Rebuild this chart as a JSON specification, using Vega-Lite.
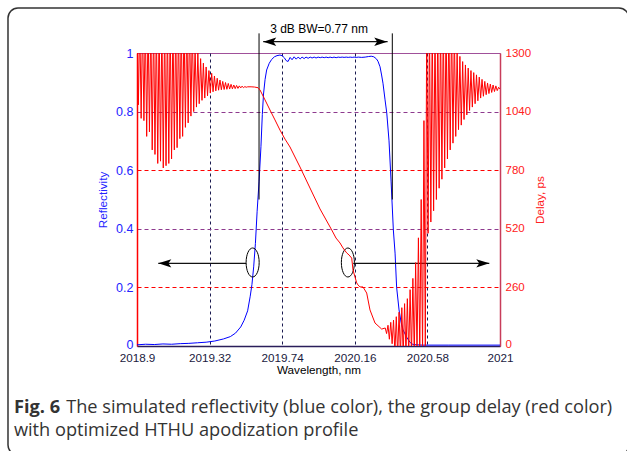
{
  "$schema": "https://vega.github.io/schema/vega-lite/v6.json",
  "width": 363,
  "height": 293,
  "autosize": {"type": "none"},
  "padding": {"left": 137, "top": 53, "right": 127, "bottom": 105},
  "config": {
    "view": {"stroke": "#a0509a", "strokeWidth": 1},
    "axis": {"labelFont": "Liberation Sans", "titleFont": "Liberation Sans", "ticks": false, "titleFontWeight": "normal", "labelFlush": false, "labelOverlap": false}
  },
  "datasets": {
    "blue": [
      {"w": 2018.9, "r": 0.004}, {"w": 2018.95, "r": 0.006}, {"w": 2019.0, "r": 0.005}, {"w": 2019.05, "r": 0.007},
      {"w": 2019.1, "r": 0.006}, {"w": 2019.15, "r": 0.008}, {"w": 2019.2, "r": 0.009}, {"w": 2019.25, "r": 0.011},
      {"w": 2019.3, "r": 0.013}, {"w": 2019.35, "r": 0.017}, {"w": 2019.4, "r": 0.024}, {"w": 2019.44, "r": 0.032},
      {"w": 2019.47, "r": 0.044}, {"w": 2019.5, "r": 0.065}, {"w": 2019.52, "r": 0.088}, {"w": 2019.54, "r": 0.12},
      {"w": 2019.555, "r": 0.17}, {"w": 2019.565, "r": 0.21}, {"w": 2019.575, "r": 0.27}, {"w": 2019.585, "r": 0.35},
      {"w": 2019.595, "r": 0.46}, {"w": 2019.606, "r": 0.56}, {"w": 2019.617, "r": 0.68}, {"w": 2019.625, "r": 0.79},
      {"w": 2019.632, "r": 0.86}, {"w": 2019.641, "r": 0.91}, {"w": 2019.65, "r": 0.942}, {"w": 2019.665, "r": 0.965},
      {"w": 2019.679, "r": 0.978}, {"w": 2019.695, "r": 0.987}, {"w": 2019.71, "r": 0.991}, {"w": 2019.727, "r": 0.993},
      {"w": 2019.74, "r": 0.991}, {"w": 2019.752, "r": 0.984}, {"w": 2019.763, "r": 0.974}, {"w": 2019.774, "r": 0.971},
      {"w": 2019.786, "r": 0.985}, {"w": 2019.797, "r": 0.977}, {"w": 2019.809, "r": 0.987}, {"w": 2019.821, "r": 0.979},
      {"w": 2019.832, "r": 0.986}, {"w": 2019.844, "r": 0.98}, {"w": 2019.855, "r": 0.986}, {"w": 2019.867, "r": 0.981},
      {"w": 2019.878, "r": 0.986}, {"w": 2019.89, "r": 0.982}, {"w": 2019.902, "r": 0.986}, {"w": 2019.913, "r": 0.983},
      {"w": 2019.925, "r": 0.986}, {"w": 2019.936, "r": 0.983}, {"w": 2019.948, "r": 0.986}, {"w": 2019.96, "r": 0.984},
      {"w": 2019.971, "r": 0.986}, {"w": 2019.983, "r": 0.984}, {"w": 2019.994, "r": 0.986}, {"w": 2020.006, "r": 0.984},
      {"w": 2020.017, "r": 0.986}, {"w": 2020.029, "r": 0.984}, {"w": 2020.04, "r": 0.986}, {"w": 2020.052, "r": 0.984},
      {"w": 2020.064, "r": 0.986}, {"w": 2020.075, "r": 0.985}, {"w": 2020.087, "r": 0.986}, {"w": 2020.098, "r": 0.985},
      {"w": 2020.11, "r": 0.986}, {"w": 2020.122, "r": 0.985}, {"w": 2020.133, "r": 0.986}, {"w": 2020.145, "r": 0.985},
      {"w": 2020.156, "r": 0.986}, {"w": 2020.168, "r": 0.985}, {"w": 2020.18, "r": 0.986}, {"w": 2020.2, "r": 0.985},
      {"w": 2020.22, "r": 0.986}, {"w": 2020.24, "r": 0.988}, {"w": 2020.255, "r": 0.989}, {"w": 2020.27, "r": 0.987},
      {"w": 2020.285, "r": 0.98}, {"w": 2020.294, "r": 0.972}, {"w": 2020.306, "r": 0.953}, {"w": 2020.315, "r": 0.925},
      {"w": 2020.323, "r": 0.897}, {"w": 2020.335, "r": 0.84}, {"w": 2020.345, "r": 0.795}, {"w": 2020.358, "r": 0.7},
      {"w": 2020.37, "r": 0.56}, {"w": 2020.383, "r": 0.396}, {"w": 2020.393, "r": 0.317}, {"w": 2020.402, "r": 0.2},
      {"w": 2020.416, "r": 0.123}, {"w": 2020.428, "r": 0.08}, {"w": 2020.439, "r": 0.055}, {"w": 2020.46, "r": 0.03},
      {"w": 2020.48, "r": 0.012}, {"w": 2020.497, "r": 0.005}, {"w": 2020.55, "r": 0.003}, {"w": 2020.7, "r": 0.003},
      {"w": 2021.0, "r": 0.003}
    ],
    "red": [
      {"w": 2018.900, "d": 1450}, {"w": 2018.908, "d": 1070}, {"w": 2018.916, "d": 1450}, {"w": 2018.924, "d": 1010},
      {"w": 2018.932, "d": 1450}, {"w": 2018.940, "d": 1000}, {"w": 2018.948, "d": 1450}, {"w": 2018.956, "d": 930},
      {"w": 2018.964, "d": 1450}, {"w": 2018.972, "d": 950}, {"w": 2018.980, "d": 1450}, {"w": 2018.988, "d": 870},
      {"w": 2018.996, "d": 1450}, {"w": 2019.004, "d": 850}, {"w": 2019.012, "d": 1450}, {"w": 2019.020, "d": 810},
      {"w": 2019.028, "d": 1450}, {"w": 2019.036, "d": 820}, {"w": 2019.044, "d": 1450}, {"w": 2019.052, "d": 790},
      {"w": 2019.060, "d": 1450}, {"w": 2019.068, "d": 800}, {"w": 2019.076, "d": 1450}, {"w": 2019.084, "d": 810},
      {"w": 2019.092, "d": 1450}, {"w": 2019.100, "d": 830}, {"w": 2019.108, "d": 1450}, {"w": 2019.116, "d": 870},
      {"w": 2019.124, "d": 1450}, {"w": 2019.132, "d": 880}, {"w": 2019.140, "d": 1450}, {"w": 2019.148, "d": 920},
      {"w": 2019.156, "d": 1450}, {"w": 2019.164, "d": 930}, {"w": 2019.172, "d": 1450}, {"w": 2019.180, "d": 970},
      {"w": 2019.188, "d": 1450}, {"w": 2019.196, "d": 990}, {"w": 2019.204, "d": 1450}, {"w": 2019.212, "d": 1020},
      {"w": 2019.220, "d": 1420}, {"w": 2019.228, "d": 1040}, {"w": 2019.236, "d": 1330}, {"w": 2019.244, "d": 1060},
      {"w": 2019.252, "d": 1300}, {"w": 2019.260, "d": 1075}, {"w": 2019.268, "d": 1275}, {"w": 2019.276, "d": 1090},
      {"w": 2019.284, "d": 1255}, {"w": 2019.292, "d": 1100}, {"w": 2019.300, "d": 1238}, {"w": 2019.308, "d": 1110},
      {"w": 2019.316, "d": 1222}, {"w": 2019.324, "d": 1122}, {"w": 2019.332, "d": 1210}, {"w": 2019.340, "d": 1128},
      {"w": 2019.348, "d": 1198}, {"w": 2019.356, "d": 1132}, {"w": 2019.364, "d": 1188}, {"w": 2019.372, "d": 1135},
      {"w": 2019.380, "d": 1180}, {"w": 2019.388, "d": 1137}, {"w": 2019.396, "d": 1174}, {"w": 2019.404, "d": 1138},
      {"w": 2019.412, "d": 1169}, {"w": 2019.420, "d": 1139}, {"w": 2019.428, "d": 1165}, {"w": 2019.436, "d": 1140},
      {"w": 2019.444, "d": 1161}, {"w": 2019.452, "d": 1141}, {"w": 2019.460, "d": 1158}, {"w": 2019.468, "d": 1142},
      {"w": 2019.476, "d": 1156}, {"w": 2019.484, "d": 1143}, {"w": 2019.492, "d": 1154}, {"w": 2019.500, "d": 1145},
      {"w": 2019.508, "d": 1153}, {"w": 2019.516, "d": 1146}, {"w": 2019.524, "d": 1151}, {"w": 2019.532, "d": 1148},
      {"w": 2019.540, "d": 1150}, {"w": 2019.560, "d": 1150}, {"w": 2019.580, "d": 1149}, {"w": 2019.600, "d": 1146},
      {"w": 2019.6116, "d": 1136}, {"w": 2019.6405, "d": 1092}, {"w": 2019.6694, "d": 1047}, {"w": 2019.6983, "d": 1003},
      {"w": 2019.7272, "d": 958}, {"w": 2019.7562, "d": 918}, {"w": 2019.7851, "d": 883}, {"w": 2019.843, "d": 794},
      {"w": 2019.9008, "d": 701}, {"w": 2019.9587, "d": 608}, {"w": 2020.0264, "d": 515}, {"w": 2020.0512, "d": 479},
      {"w": 2020.0744, "d": 457}, {"w": 2020.0917, "d": 435}, {"w": 2020.1131, "d": 413}, {"w": 2020.1265, "d": 404},
      {"w": 2020.1421, "d": 390}, {"w": 2020.1496, "d": 337}, {"w": 2020.171, "d": 280}, {"w": 2020.1785, "d": 271},
      {"w": 2020.1901, "d": 262}, {"w": 2020.2074, "d": 262}, {"w": 2020.2288, "d": 235}, {"w": 2020.2479, "d": 160},
      {"w": 2020.2769, "d": 102}, {"w": 2020.3156, "d": 75},
      {"w": 2020.336, "d": 80}, {"w": 2020.344, "d": 55}, {"w": 2020.352, "d": 92}, {"w": 2020.360, "d": 30},
      {"w": 2020.368, "d": 105}, {"w": 2020.376, "d": 10}, {"w": 2020.384, "d": 115}, {"w": 2020.392, "d": -30},
      {"w": 2020.400, "d": 130}, {"w": 2020.408, "d": -40}, {"w": 2020.416, "d": 150}, {"w": 2020.424, "d": -40},
      {"w": 2020.432, "d": 170}, {"w": 2020.440, "d": -40}, {"w": 2020.448, "d": 188}, {"w": 2020.456, "d": -40},
      {"w": 2020.464, "d": 210}, {"w": 2020.472, "d": -40}, {"w": 2020.480, "d": 250}, {"w": 2020.488, "d": -40},
      {"w": 2020.496, "d": 300}, {"w": 2020.504, "d": -40}, {"w": 2020.512, "d": 370}, {"w": 2020.520, "d": -40},
      {"w": 2020.528, "d": 480}, {"w": 2020.536, "d": -40}, {"w": 2020.544, "d": 650}, {"w": 2020.552, "d": -40},
      {"w": 2020.560, "d": 1000}, {"w": 2020.568, "d": -40}, {"w": 2020.576, "d": 1450}, {"w": 2020.584, "d": 500},
      {"w": 2020.592, "d": 1450}, {"w": 2020.600, "d": 550}, {"w": 2020.608, "d": 1450}, {"w": 2020.616, "d": 600},
      {"w": 2020.624, "d": 1450}, {"w": 2020.632, "d": 650}, {"w": 2020.640, "d": 1450}, {"w": 2020.648, "d": 700},
      {"w": 2020.656, "d": 1450}, {"w": 2020.664, "d": 740}, {"w": 2020.672, "d": 1450}, {"w": 2020.680, "d": 790},
      {"w": 2020.688, "d": 1450}, {"w": 2020.696, "d": 830}, {"w": 2020.704, "d": 1450}, {"w": 2020.712, "d": 870},
      {"w": 2020.720, "d": 1450}, {"w": 2020.728, "d": 900}, {"w": 2020.736, "d": 1400}, {"w": 2020.744, "d": 930},
      {"w": 2020.752, "d": 1320}, {"w": 2020.760, "d": 960}, {"w": 2020.768, "d": 1285}, {"w": 2020.776, "d": 980},
      {"w": 2020.784, "d": 1262}, {"w": 2020.792, "d": 1005}, {"w": 2020.800, "d": 1247}, {"w": 2020.808, "d": 1025},
      {"w": 2020.816, "d": 1233}, {"w": 2020.824, "d": 1045}, {"w": 2020.832, "d": 1222}, {"w": 2020.840, "d": 1060},
      {"w": 2020.848, "d": 1213}, {"w": 2020.856, "d": 1075}, {"w": 2020.864, "d": 1203}, {"w": 2020.872, "d": 1088},
      {"w": 2020.880, "d": 1193}, {"w": 2020.888, "d": 1100}, {"w": 2020.896, "d": 1183}, {"w": 2020.904, "d": 1108},
      {"w": 2020.912, "d": 1174}, {"w": 2020.920, "d": 1115}, {"w": 2020.928, "d": 1167}, {"w": 2020.936, "d": 1120},
      {"w": 2020.944, "d": 1162}, {"w": 2020.952, "d": 1125}, {"w": 2020.960, "d": 1158}, {"w": 2020.968, "d": 1129},
      {"w": 2020.976, "d": 1154}, {"w": 2020.984, "d": 1133}, {"w": 2020.992, "d": 1148}, {"w": 2021.000, "d": 1140}
    ],
    "vlines": [{"w": 2019.606, "r1": 0.5, "r2": 1.067}, {"w": 2020.377, "r1": 0.5, "r2": 1.067}],
    "hlines": [
      {"w": 2019.63, "w2": 2020.35, "r": 1.0386},
      {"w": 2019.023, "w2": 2019.531, "r": 0.282},
      {"w": 2020.151, "w2": 2020.938, "r": 0.282}
    ],
    "heads": [
      {"w": 2019.668, "r": 1.0386, "dir": "left"}, {"w": 2020.31, "r": 1.0386, "dir": "right"},
      {"w": 2019.061, "r": 0.282, "dir": "left"}, {"w": 2020.9005, "r": 0.282, "dir": "right"}
    ],
    "ellipses": [{"w": 2019.569, "r": 0.285}, {"w": 2020.12, "r": 0.285}],
    "labels": [{"w": 2019.953, "r": 1.082, "text": "3 dB BW=0.77 nm"}],
    "capbold": [{"w": 2018.188, "r": -0.2287, "text": "Fig. 6"}],
    "capnorm": [
      {"w": 2018.49, "r": -0.2287, "text": "The simulated reflectivity (blue color), the group delay (red color)"},
      {"w": 2018.188, "r": -0.3072, "text": "with optimized HTHU apodization profile"}
    ],
    "frame": [{"w": 2018.1537, "w2": 2021.746, "r1": 1.1536, "r2": -0.372}]
  },
  "encoding": {
    "x": {
      "field": "w", "type": "quantitative",
      "scale": {"domain": [2018.9, 2021], "nice": false, "zero": false},
      "axis": {
        "title": "Wavelength, nm", "values": [2018.9, 2019.32, 2019.74, 2020.16, 2020.58, 2021],
        "labelExpr": "'' + datum.value", "labelFontSize": 11.7, "labelColor": "#1a1a40", "labelPadding": 6,
        "titleFontSize": 11.7, "titleColor": "#000000", "titlePadding": 1,
        "domainColor": "#2a1e5a", "domainWidth": 1.5,
        "grid": true, "gridColor": "#1a1a50", "gridDash": [3, 3], "gridWidth": 1,
        "gridOpacity": {"condition": {"test": "datum.value === 2018.9 || datum.value === 2021", "value": 0}, "value": 1}
      }
    }
  },
  "layer": [
    {
      "data": {"name": "blue"},
      "mark": {"type": "line", "color": "#0000ff", "strokeWidth": 1},
      "encoding": {
        "y": {
          "field": "r", "type": "quantitative",
          "scale": {"domain": [0, 1], "nice": false},
          "axis": {
            "orient": "left", "title": "Reflectivity", "values": [0, 0.2, 0.4, 0.6, 0.8, 1],
            "labelExpr": "'' + datum.value", "labelFontSize": 12.5, "labelColor": "#2323ff", "labelPadding": 4,
            "labelOffset": {"condition": {"test": "datum.value === 0", "value": -2}, "value": 0},
            "titleFontSize": 11.7, "titleColor": "#2323ff", "titlePadding": 7,
            "domainColor": "#ff0000", "domainWidth": 1.5,
            "grid": true, "gridDash": [4, 3], "gridWidth": 1,
            "gridColor": {"condition": {"test": "datum.value === 0.4 || datum.value === 0.8", "value": "#8e3a8e"}, "value": "#ff0000"},
            "gridOpacity": {"condition": {"test": "datum.value === 0 || datum.value === 1", "value": 0}, "value": 1}
          }
        }
      }
    },
    {
      "data": {"name": "frame"},
      "mark": {"type": "rect", "fill": "transparent", "stroke": "#333333", "strokeWidth": 1.5, "cornerRadius": 10},
      "encoding": {
        "x2": {"field": "w2"},
        "y": {"field": "r1", "type": "quantitative", "scale": {"domain": [0, 1], "nice": false}, "axis": null},
        "y2": {"field": "r2"}
      }
    },
    {
      "data": {"name": "vlines"},
      "mark": {"type": "rule", "color": "#000000", "strokeWidth": 1},
      "encoding": {
        "y": {"field": "r1", "type": "quantitative", "scale": {"domain": [0, 1], "nice": false}, "axis": null},
        "y2": {"field": "r2"}
      }
    },
    {
      "data": {"name": "hlines"},
      "mark": {"type": "rule", "color": "#111111", "strokeWidth": 1.2},
      "encoding": {
        "x2": {"field": "w2"},
        "y": {"field": "r", "type": "quantitative", "scale": {"domain": [0, 1], "nice": false}, "axis": null}
      }
    },
    {
      "data": {"name": "heads"},
      "mark": {"type": "point", "filled": true, "color": "#000000", "size": 169, "opacity": 1},
      "encoding": {
        "y": {"field": "r", "type": "quantitative", "scale": {"domain": [0, 1], "nice": false}, "axis": null},
        "shape": {"field": "dir", "type": "nominal", "legend": null,
          "scale": {"domain": ["left", "right"], "range": ["M-1,0 L1,-0.65 L0.55,0 L1,0.65 Z", "M1,0 L-1,-0.65 L-0.55,0 L-1,0.65 Z"]}}
      }
    },
    {
      "data": {"name": "ellipses"},
      "mark": {"type": "point", "filled": false, "color": "#000000", "strokeWidth": 1, "size": 841, "opacity": 1,
        "shape": "M0.45,0 C0.45,0.552 0.249,1 0,1 C-0.249,1 -0.45,0.552 -0.45,0 C-0.45,-0.552 -0.249,-1 0,-1 C0.249,-1 0.45,-0.552 0.45,0 Z"},
      "encoding": {
        "y": {"field": "r", "type": "quantitative", "scale": {"domain": [0, 1], "nice": false}, "axis": null}
      }
    },
    {
      "data": {"name": "labels"},
      "mark": {"type": "text", "font": "Liberation Sans", "fontSize": 12, "color": "#000000", "align": "center", "baseline": "middle"},
      "encoding": {
        "y": {"field": "r", "type": "quantitative", "scale": {"domain": [0, 1], "nice": false}, "axis": null},
        "text": {"field": "text"}
      }
    },
    {
      "data": {"name": "capbold"},
      "mark": {"type": "text", "font": "Open Sans", "fontSize": 18.2, "fontWeight": "bold", "color": "#333333", "align": "left", "baseline": "alphabetic"},
      "encoding": {
        "y": {"field": "r", "type": "quantitative", "scale": {"domain": [0, 1], "nice": false}, "axis": null},
        "text": {"field": "text"}
      }
    },
    {
      "data": {"name": "capnorm"},
      "mark": {"type": "text", "font": "Open Sans", "fontSize": 18.2, "color": "#333333", "align": "left", "baseline": "alphabetic"},
      "encoding": {
        "y": {"field": "r", "type": "quantitative", "scale": {"domain": [0, 1], "nice": false}, "axis": null},
        "text": {"field": "text"}
      }
    },
    {
      "data": {"name": "red"},
      "mark": {"type": "line", "color": "#ff0000", "strokeWidth": 1, "clip": true},
      "encoding": {
        "y": {
          "field": "d", "type": "quantitative",
          "scale": {"domain": [0, 1300], "nice": false},
          "axis": {
            "orient": "right", "title": "Delay, ps", "values": [0, 260, 520, 780, 1040, 1300],
            "labelExpr": "'' + datum.value", "labelFontSize": 11.5, "labelColor": "#ff2020", "labelPadding": 5,
            "labelOffset": {"condition": {"test": "datum.value === 0", "value": -2}, "value": 0},
            "titleFontSize": 11.7, "titleColor": "#ff2020", "titlePadding": 4, "titleAngle": 270, "titleBaseline": "top",
            "domainColor": "#c83c5a", "domainWidth": 1.5, "grid": false
          }
        }
      }
    }
  ],
  "resolve": {"scale": {"y": "independent"}}
}
